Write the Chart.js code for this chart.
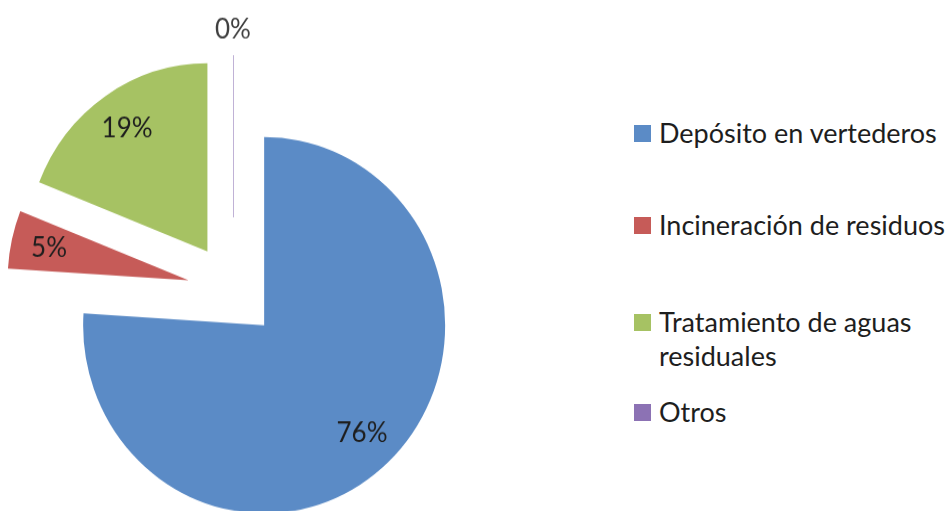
<!DOCTYPE html>
<html lang="es">
<head>
<meta charset="UTF-8">
<title>Destino de los residuos</title>
<script src="https://cdn.jsdelivr.net/npm/chart.js"></script>
<style>
  html, body { margin: 0; padding: 0; background: #fff; overflow: hidden; }
  body { width: 952px; height: 511px; position: relative; font-family: Lato, "Open Sans", sans-serif; }
  /* the original picture is slightly taller than wide */
  #grafico { position: absolute; left: 0; top: 0; transform: scaleY(1.04); transform-origin: 0 0; }
  #leyenda { position: absolute; left: 634px; top: 0; width: 318px; height: 511px; }
  .item { position: absolute; left: 0; width: 318px; display: flex; align-items: flex-start;
          font-size: 27px; line-height: 34px; color: #1e1e1e; }
  .caja { width: 17px; height: 17px; margin-top: 9px; margin-right: 8px; flex: none; }
</style>
</head>
<body>
<canvas id="grafico" width="470" height="511"></canvas>
<div id="leyenda"></div>

<script>
// datos
const categorias = ['Depósito en vertederos', 'Incineración de residuos', 'Tratamiento de aguas residuales', 'Otros'];
const porcentajes = [76, 5, 19, 0];
const colores = ['#5B8BC6', '#C65B58', '#A6C263', '#8C72B4'];

// separación de cada porción (px) y posición vertical de cada fila de la leyenda
const SEPARACION = 45.5;
const filasLeyenda = [116, 208, 305, 395];

// porciones separadas + etiquetas de porcentaje
const piezasSeparadas = {
    id: 'piezasSeparadas',
    beforeDatasetDraw(chart, args) {
        const ctx = chart.ctx;
        args.meta.data.forEach((arc, i) => {
            const mid = (arc.startAngle + arc.endAngle) / 2;
            ctx.save();
            ctx.translate(Math.cos(mid) * SEPARACION, Math.sin(mid) * SEPARACION);
            if (arc.circumference > 0) {
                arc.draw(ctx);
            } else {
                // porción de 0%: solo se ve su borde
                ctx.strokeStyle = colores[i];
                ctx.globalAlpha = 0.55;
                ctx.lineWidth = 1;
                ctx.beginPath();
                ctx.moveTo(arc.x + 0.5 + Math.cos(arc.startAngle) * 25, arc.y + Math.sin(arc.startAngle) * 25);
                ctx.lineTo(arc.x + 0.5 + Math.cos(arc.startAngle) * arc.outerRadius, arc.y + Math.sin(arc.startAngle) * arc.outerRadius);
                ctx.stroke();
                ctx.globalAlpha = 1;
            }
            const v = porcentajes[i];
            const r = v > 0 ? arc.outerRadius * 0.79 : arc.outerRadius + 24;
            ctx.fillStyle = v > 0 ? '#1e1e1e' : '#404040';
            ctx.font = '26px Lato, "Open Sans", sans-serif';
            ctx.textAlign = 'center';
            ctx.textBaseline = 'middle';
            ctx.fillText(v + '%', arc.x + Math.cos(mid) * r, arc.y + Math.sin(mid) * r);
            ctx.restore();
        });
        return false;
    }
};

new Chart(document.getElementById('grafico'), {
    type: 'pie',
    data: {
        labels: categorias,
        datasets: [{
            data: porcentajes,
            backgroundColor: colores,
            borderWidth: 0,
            radius: 181
        }]
    },
    options: {
        responsive: false,
        animation: false,
        devicePixelRatio: 1,
        events: [],
        layout: { padding: { top: 48, right: 4 } },
        plugins: {
            legend: { display: false },
            tooltip: { enabled: false }
        }
    },
    plugins: [piezasSeparadas]
});

// leyenda
const leyenda = document.getElementById('leyenda');
categorias.forEach((c, i) => {
    const item = document.createElement('div');
    item.className = 'item';
    item.style.top = filasLeyenda[i] + 'px';
    item.innerHTML = '<span class="caja" style="background:' + colores[i] + '"></span><span>' + c + '</span>';
    leyenda.appendChild(item);
});
</script>
</body>
</html>
